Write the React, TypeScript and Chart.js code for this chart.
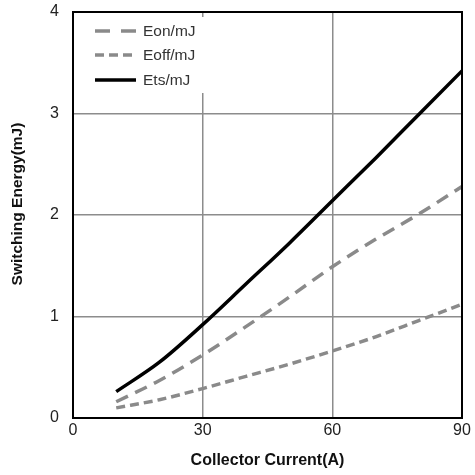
import React, { useEffect, useRef } from "react";
import { Chart, registerables } from "chart.js";

Chart.register(...registerables);

const currents = [10, 20, 30, 40, 50, 60, 70, 80, 90];
const eonValues = [0.16, 0.37, 0.62, 0.9, 1.19, 1.49, 1.76, 2.01, 2.28];
const eoffValues = [0.1, 0.18, 0.29, 0.41, 0.53, 0.66, 0.8, 0.96, 1.12];
const etsValues = [0.26, 0.55, 0.92, 1.32, 1.72, 2.14, 2.56, 2.99, 3.42];
const seriesLabels = ["Eon/mJ", "Eoff/mJ", "Ets/mJ"];
const xTitle = "Collector Current(A)";
const yTitle = "Switching Energy(mJ)";

const FONT = "'Liberation Sans', Arial, sans-serif";

const insideLegend = {
  id: "insideLegend",
  beforeDatasetsDraw(chart: any) {
    const { ctx, chartArea } = chart;
    ctx.save();
    ctx.fillStyle = "#ffffff";
    ctx.fillRect(chartArea.left + 4, chartArea.top + 5, 140, 76);
    ctx.restore();
  },
  afterDraw(chart: any) {
    const { ctx, chartArea } = chart;
    const x0 = chartArea.left + 22;
    const x1 = chartArea.left + 63;
    const rows = [19, 43, 68];
    ctx.save();
    chart.data.datasets.forEach((ds: any, i: number) => {
      const y = chartArea.top + rows[i];
      ctx.beginPath();
      ctx.strokeStyle = ds.borderColor;
      ctx.lineWidth = ds.borderWidth;
      ctx.setLineDash(ds.legendDash || []);
      ctx.moveTo(x0, y);
      ctx.lineTo(x1, y);
      ctx.stroke();
      ctx.setLineDash([]);
      ctx.fillStyle = "#333";
      ctx.font = `15.5px ${FONT}`;
      ctx.textBaseline = "middle";
      ctx.textAlign = "left";
      ctx.fillText(ds.label, chartArea.left + 70, y + 1);
    });
    ctx.strokeStyle = "#000";
    ctx.lineWidth = 2;
    ctx.strokeRect(chartArea.left, chartArea.top, chartArea.right - chartArea.left, chartArea.bottom - chartArea.top);
    // y axis title
    ctx.save();
    ctx.translate(17.5, chartArea.top + 192);
    ctx.rotate(-Math.PI / 2);
    ctx.fillStyle = "#111";
    ctx.font = `bold 15.5px ${FONT}`;
    ctx.textAlign = "center";
    ctx.textBaseline = "middle";
    ctx.fillText(yTitle, 0, 0);
    ctx.restore();
    ctx.restore();
  },
};

export default function App() {
  const ref = useRef<HTMLCanvasElement | null>(null);
  useEffect(() => {
    if (!ref.current) return;
    const mk = (vals: number[]) => currents.map((x, i) => ({ x, y: vals[i] }));
    const chart = new Chart(ref.current, {
      type: "line",
      data: {
        datasets: [
          {
            label: seriesLabels[0],
            data: mk(eonValues),
            borderColor: "#8a8a8a",
            borderWidth: 3.5,
            borderDash: [13, 8],
            legendDash: [15, 11],
            pointRadius: 0,
            tension: 0.4,
            cubicInterpolationMode: "monotone",
          } as any,
          {
            label: seriesLabels[1],
            data: mk(eoffValues),
            borderColor: "#8a8a8a",
            borderWidth: 3.5,
            borderDash: [9, 5],
            legendDash: [9, 5],
            pointRadius: 0,
            tension: 0.4,
            cubicInterpolationMode: "monotone",
          } as any,
          {
            label: seriesLabels[2],
            data: mk(etsValues),
            borderColor: "#000000",
            borderWidth: 3.5,
            legendDash: [],
            pointRadius: 0,
            tension: 0.4,
            cubicInterpolationMode: "monotone",
          } as any,
        ],
      },
      options: {
        animation: false,
        responsive: false,
        maintainAspectRatio: false,
        layout: { padding: { left: 0, top: 12, right: 13, bottom: 0 } },
        plugins: { legend: { display: false }, tooltip: { enabled: false } },
        scales: {
          x: {
            type: "linear",
            min: 0,
            max: 90,
            afterFit: (s: any) => {
              s.height = 57;
              s.paddingLeft = 0;
              s.paddingRight = 0;
            },
            ticks: { stepSize: 30, padding: 3, color: "#222", font: { family: FONT, size: 16 } },
            grid: { color: "#8c8c8c", lineWidth: 1.5, drawTicks: false },
            border: { display: true, color: "#000", width: 2 },
            title: {
              display: true,
              text: xTitle,
              color: "#111",
              font: { family: FONT, size: 16, weight: "bold" },
              padding: { top: 0, bottom: 5 },
            },
          },
          y: {
            type: "linear",
            min: 0,
            max: 4,
            afterFit: (s: any) => {
              s.width = 73;
              s.paddingTop = 0;
              s.paddingBottom = 0;
            },
            ticks: { stepSize: 1, padding: 14, color: "#222", font: { family: FONT, size: 16 } },
            grid: { color: "#8c8c8c", lineWidth: 1.5, drawTicks: false },
            border: { display: true, color: "#000", width: 2 },
            title: { display: false },
          },
        },
      },
      plugins: [insideLegend],
    });
    return () => chart.destroy();
  }, []);
  return (
    <div style={{ position: "fixed", left: 0, top: 0, width: 475, height: 475, background: "#fff" }}>
      <canvas ref={ref} width={475} height={475} style={{ width: 475, height: 475 }} />
    </div>
  );
}
